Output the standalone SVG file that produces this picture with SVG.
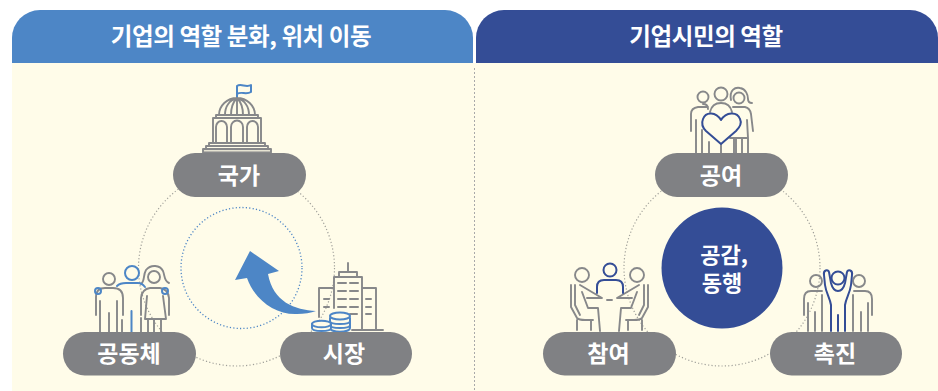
<svg xmlns="http://www.w3.org/2000/svg" width="938" height="391" viewBox="0 0 938 391">
<style>
text{font-family:"Noto Sans CJK KR","Noto Sans",sans-serif;font-weight:700;fill:#fff;text-anchor:middle}
.h{font-size:23.500px;letter-spacing:-.4px}
.p{font-size:23px}
.c{font-size:22px}
.pill{fill:#808184}
.g{fill:none;stroke:#87888a;stroke-width:1.900;stroke-linecap:round;stroke-linejoin:round}
.b{fill:none;stroke:#4d86c6;stroke-width:2;stroke-linecap:round;stroke-linejoin:round}
.n{fill:none;stroke:#344d96;stroke-width:2;stroke-linecap:round;stroke-linejoin:round}
.dot{fill:none;stroke:#a0a09a;stroke-width:1.200;stroke-dasharray:1.200 2.200}
</style>
<rect width="938" height="391" fill="#fff"/>
<rect x="12" y="60" width="461" height="331" fill="#fffce9"/>
<rect x="476" y="60" width="462" height="331" fill="#fffce9"/>
<rect x="473" y="63" width="3" height="328" fill="#fffce9"/>
<path d="M12 63V38A28 28 0 0 1 40 10H445A28 28 0 0 1 473 38V63Z" fill="#4d86c6"/>
<path d="M476 63V38A28 28 0 0 1 504 10H910A28 28 0 0 1 938 38V63Z" fill="#344d96"/>
<line x1="474.500" y1="68" x2="474.500" y2="391" stroke="#a9a9a9" stroke-width="1" stroke-dasharray="2 2"/>
<text class="h" x="241" y="45">기업의 역할 분화, 위치 이동</text>
<text class="h" x="706" y="45">기업시민의 역할</text>

<g id="connectors">
<circle class="dot" cx="236.500" cy="268" r="98"/>
<circle cx="241.500" cy="268" r="60.500" fill="none" stroke="#4d86c6" stroke-width="1.300" stroke-dasharray="1.200 2.200"/>
<circle class="dot" cx="722" cy="268" r="98"/>
<path d="M250 251L235 280L247 278C254 299 275 315 297 314C304 314 311 313 316 311C295 310 273 302 268 274L279 271Z" fill="#4d86c6"/>
</g>

<g id="node-center"><circle cx="722" cy="268" r="60.500" fill="#344d96"/>
<text class="c"><tspan x="724" y="263">공감,</tspan><tspan x="722" y="291">동행</tspan></text></g>

<g id="node-state">
<path class="b" d="M237 98V86C241 83 246 88 251 85V92C246 95 241 91 237 94"/>
<g class="g">
<path d="M219 115A18 17 0 0 1 255 115M225 115C225 106 230 100 237 98C244 100 249 106 249 115M231 115C231 107 233 102 237 98C241 102 243 107 243 115M237 98V115"/>
<rect x="216" y="115" width="42" height="3"/>
<path d="M213 143V118H261V143"/>
<path d="M216 142V127A5.500 6 0 0 1 227 127V142M231 142V127A5.500 6 0 0 1 243 127V142M247 142V127A5.500 6 0 0 1 258 127V142"/>
<path d="M209 146V143H265V146M206 149V146H268V149"/>
<rect x="203" y="149" width="68" height="3.500" fill="#e6e3d2"/>
</g>
<rect class="pill" x="173" y="153" width="133" height="44" rx="22"/>
<text class="p" x="239" y="184">국가</text></g>

<g id="node-community">
<g class="g">
<circle cx="109" cy="279" r="6"/>
<path d="M96 315V297Q96 288 105 288H113Q123 288 123 298V315M100 301V332M117 301V332M109 313V332M122 320V332M141 318V332"/>
<path d="M146 270C151 264 160 265 163 271C165 276 164 281 169 283M146 270C143 275 145 281 141 284"/>
<circle cx="154" cy="277" r="6"/>
<path d="M141 315V298Q142 289 150 288H160Q168 289 169 298V315M147 296L145 319H166L163 296M148 319V332M154 319V332M161 319V332"/>
</g>
<g class="b"><circle cx="132" cy="273" r="7"/><path d="M117 286Q120 283 126 283H138Q142 283 145 287M131.500 311V332"/><circle cx="98" cy="291" r="3"/><circle cx="165" cy="291" r="3"/></g>
<rect class="pill" x="63" y="332" width="133" height="43.500" rx="21.750"/>
<text class="p" x="129" y="362">공동체</text></g>

<g id="node-market">
<g class="g">
<path d="M348 263V272M339 277V272H357V277M334 308V277H362V330M319 317V288H334M362 288H376V330M352 330H383"/>
<path d="M338 283H346M350 283H358M338 291H346M350 291H358M338 299H346M350 299H358M338 307H346M350 307H358M350 314H357M324 299H329M324 307H329M366 299H371M366 307H371M366 314H371" stroke-width="2"/>
</g>
<g class="b" style="fill:#fffce9">
<path d="M330 318V328C330 333 350 333 350 328V318"/>
<ellipse cx="340" cy="316" rx="10" ry="3.500"/>
<path d="M330 321C330 325 350 325 350 321M330 325C330 329 350 329 350 325" style="fill:none"/>
<path d="M312 324V328C312 332 331 332 331 328V324"/>
<ellipse cx="321.500" cy="324" rx="9.500" ry="3.300"/>
</g>
<rect class="pill" x="280" y="332" width="132" height="43.500" rx="21.750"/>
<text class="p" x="344" y="362">시장</text></g>

<g id="node-contribute">
<g class="g">
<circle cx="703" cy="97" r="5.500"/><circle cx="721" cy="94" r="6.500"/><circle cx="739" cy="98" r="5.500"/>
<path d="M731 100C729 90 735 87 740 88C746 89 748 95 748 99C748 102 750 103 752 103"/>
<path d="M691 131V114Q691 108 698 107H708M696 120V153M733 107H745Q750 108 751 114L753 131M703 104Q708 104 708 109M710 112Q712 103 721 103Q730 103 732 112M702 130V153M709 142V153M721 145V153M734 138V153M747 120L748 138H730M736 138V153M742 138V153M748 138V153"/>
</g>
<path class="n" d="M721 120C716 112 706 111 703 119C701 124 703 128 706 131L721 144L736 131C740 127 742 123 740 119C737 111 726 112 721 120Z" style="fill:#fffce9"/>
<rect class="pill" x="655" y="153" width="133" height="44" rx="22"/>
<text class="p" x="721" y="184">공여</text></g>

<g id="node-participate">
<g class="g">
<circle cx="582" cy="275" r="7"/><circle cx="637" cy="275" r="7"/>
<path d="M571 285V307L577 318Q579 320 585 320H593M575 285V305L580 315M577 320V330M591 320V330M580 285L602 298H587M582 292L588 308H598L600 331M607 300H612"/>
<path d="M648 285V307L642 318Q640 320 634 320H626M644 285V305L639 315M642 320V330M628 320V330M639 285L617 298H632M637 292L631 308H621L619 331"/>
</g>
<g class="n"><circle cx="610" cy="270" r="6.500"/><path d="M597 293V287Q597 280 604 280H616Q623 280 623 287V293"/></g>
<rect class="pill" x="543" y="332" width="133" height="43.500" rx="21.750"/>
<text class="p" x="608.500" y="362">참여</text></g>

<g id="node-promote">
<g class="g">
<circle cx="816" cy="281" r="6"/><circle cx="859" cy="281" r="6"/>
<path d="M804 315V299Q804 291 811 291H822M815 312V331M808 303V331M822 295V331"/>
<path d="M872 315V299Q872 291 865 291H854M861 312V331M868 303V331M853 295V331"/>
</g>
<g class="n"><circle cx="838" cy="278" r="6.500"/>
<path d="M831 331V305C830 298 826 293 825 285L824 275C823 270 828 269 829 272L831 283Q833 291 838 291Q843 291 845 283L847 272C848 269 853 270 852 275L851 285C850 293 846 298 845 305V331M838 315V331"/></g>
<rect class="pill" x="770" y="332" width="132" height="43.500" rx="21.750"/>
<text class="p" x="835" y="362">촉진</text></g>
</svg>
